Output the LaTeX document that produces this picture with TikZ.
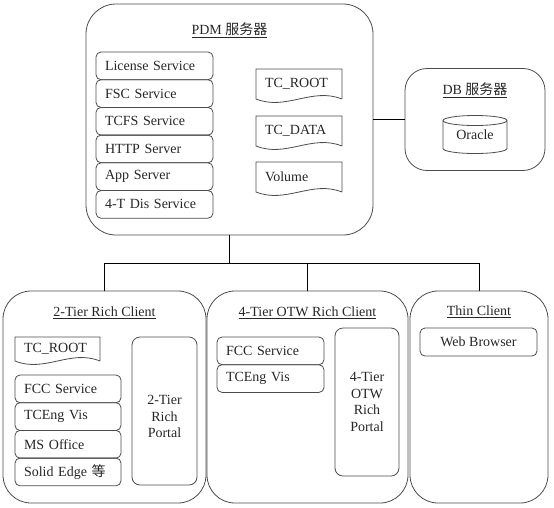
\documentclass[tikz,border=0pt]{standalone}
\usepackage{fontspec}
\setmainfont{Liberation Serif}
\newfontfamily\cjk{Noto Sans CJK SC}
\usetikzlibrary{positioning,calc}

\begin{document}
\begin{tikzpicture}[x=1pt,y=-1pt,
    every node/.style={font=\fontsize{14}{16.5}\selectfont, text=black!85, outer sep=0pt},
    box/.style={draw=black!70, line width=0.8pt},
    group/.style={box, rounded corners=28pt},
    srv/.style={box, rounded corners=5pt, minimum height=27.7pt, inner xsep=9pt, text width=#1, align=left},
    doc/.style={inner xsep=9pt, align=left},
    portal/.style={box, rounded corners=8pt, align=center},
    heading/.style={inner sep=0pt},
    link/.style={line width=0.9pt},
    node distance=0pt]

\useasboundingbox (0,0) rectangle (554,507);

% PDM server
\node[group, rounded corners=30pt, minimum width=287pt, minimum height=231pt] (pdm) at (229.5,119.5) {};
\node[heading] (pdmtitle) at (229.5,30) {\underline{PDM {\cjk 服务器}}};

\node[srv=99pt, anchor=north west] (lic) at (96,52) {License Service};
\node[srv=99pt, below=of lic] (fsc) {FSC Service};
\node[srv=99pt, below=of fsc] (tcfs) {TCFS Service};
\node[srv=99pt, below=of tcfs] (http) {HTTP Server};
\node[srv=99pt, below=of http] (app) {App Server};
\node[srv=99pt, below=of app] (dis) {4-T Dis Service};

\node[doc, text width=68pt, minimum height=30pt, anchor=north west] (root) at (256,69) {TC\_ROOT};
\node[doc, text width=68pt, minimum height=30pt, anchor=north west] (data) at (256,116) {TC\_DATA};
\node[doc, text width=68pt, minimum height=30pt, anchor=north west] (vol) at (256,162) {Volume};

% DB server
\node[group, rounded corners=22pt, minimum width=140pt, minimum height=102pt] (db) at (475,119.5) {};
\node[heading] (dbtitle) at (475,90) {\underline{DB {\cjk 服务器}}};
\node[minimum width=64pt, minimum height=28pt, inner sep=0pt] (ora) at (475,134.5) {Oracle};
\draw[box] (ora.north) ellipse [x radius=32pt, y radius=5pt];
\draw[box] (ora.north west) -- (ora.south west)
    arc [start angle=180, end angle=360, x radius=32pt, y radius=5pt] -- (ora.north east);

% Clients
\node[group, minimum width=203pt, minimum height=212pt] (two) at (104.5,397) {};
\node[group, minimum width=201pt, minimum height=212pt] (four) at (307.5,397) {};
\node[group, minimum width=138pt, minimum height=212pt] (thin) at (479,397) {};

\node[heading] (twotitle) at (104.5,313) {\underline{2-Tier Rich Client}};
\node[heading] (fourtitle) at (307.5,313) {\underline{4-Tier OTW Rich Client}};
\node[heading] (thintitle) at (479,312) {\underline{Thin Client}};

% 2-Tier
\node[doc, text width=67pt, minimum height=24pt, anchor=north west] (croot) at (15,337) {TC\_ROOT};
\node[srv=88pt, anchor=north west] (fcc) at (15,375) {FCC Service};
\node[srv=88pt, below=of fcc] (vis) {TCEng Vis};
\node[srv=88pt, below=of vis] (office) {MS Office};
\node[srv=88pt, below=of office] (edge) {Solid Edge {\cjk 等}};
\node[portal, minimum width=65pt, minimum height=148pt, anchor=north west] (rich) at (132,337)
    {\raisebox{-7pt}[\height][\depth]{\begin{tabular}{@{}c@{}}2-Tier\\Rich\\Portal\end{tabular}}};

% 4-Tier OTW
\node[srv=89pt, anchor=north west] (ofcc) at (217,337) {FCC Service};
\node[srv=89pt, below=of ofcc] (ovis) {TCEng Vis};
\node[portal, minimum width=64pt, minimum height=148pt, anchor=north west] (otw) at (335,328) {4-Tier\\OTW\\Rich\\Portal};

% Thin
\node[box, rounded corners=5pt, minimum width=117pt, minimum height=28pt, anchor=north west] (web) at (420,328) {Web Browser};

% document outlines
\foreach \n in {root,data,vol,croot}
  \draw[box] (\n.south east) -- (\n.north east) -- (\n.north west) -- (\n.south west)
    .. controls ($(\n.south west)!0.35!(\n.south east)+(0,12)$) and ($(\n.south west)!0.65!(\n.south east)+(0,-12)$) .. (\n.south east);

% connectors
\draw[link] (pdm) -- (db);
\draw[link] (pdm.south) -- ++(0,28) coordinate (bus);
\draw[link] (two.north) -- (two.north |- bus) -- (thin.north |- bus) -- (thin.north);
\draw[link] (four.north) -- (four.north |- bus);

\end{tikzpicture}
\end{document}
